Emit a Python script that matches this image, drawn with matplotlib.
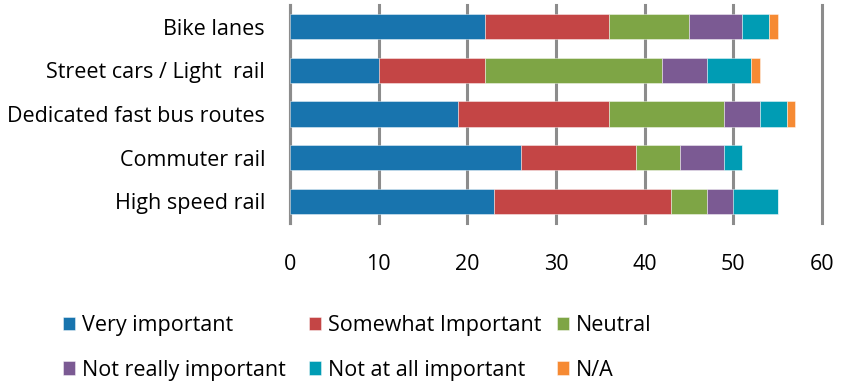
import matplotlib
matplotlib.use("Agg")
import matplotlib.pyplot as plt
import numpy as np

categories = ["Bike lanes", "Street cars / Light  rail", "Dedicated fast bus routes",
              "Commuter rail", "High speed rail"]
series_names = ["Very important", "Somewhat Important", "Neutral",
                "Not really important", "Not at all important", "N/A"]
very_important = [22, 10, 19, 26, 23]
somewhat_important = [14, 12, 17, 13, 20]
neutral = [9, 20, 13, 5, 4]
not_really = [6, 5, 4, 5, 3]
not_at_all = [3, 5, 3, 2, 5]
na = [1, 1, 1, 0, 0]
xticks = [0, 10, 20, 30, 40, 50, 60]

colors = ["#1874AE", "#C44545", "#7EA545", "#7B5A93", "#009CB4", "#F68A33"]

plt.rcParams['font.family'] = ['Open Sans', 'DejaVu Sans']
FS = 15.5

fig = plt.figure(figsize=(8.47, 3.83), dpi=100)
ax = fig.add_axes([290/847, 1-223/383, (822-290)/847, (223-5)/383])

data = [very_important, somewhat_important, neutral, not_really, not_at_all, na]
y = np.arange(len(categories))
left = np.zeros(len(categories))
containers = []
for vals, c, name in zip(data, colors, series_names):
    vals = np.array(vals, dtype=float)
    bc = ax.barh(y, vals, left=left, height=0.58, color=c, edgecolor=(1, 1, 1, 0.5),
                 linewidth=0.6, label=name, zorder=3)
    containers.append(bc)
    left += vals

ax.set_ylim(len(categories) - 0.5, -0.5)
ax.set_xlim(0, 60)
ax.set_xticks(xticks)
ax.set_yticks(y)
ax.set_yticklabels(categories, fontsize=FS)
ax.tick_params(axis='x', length=0, pad=22, labelsize=FS)
ax.tick_params(axis='y', length=0, pad=18)
ax.xaxis.grid(True, color="#8C8C8C", linewidth=2.2, zorder=0)
ax.set_axisbelow(True)
for gl in ax.get_xgridlines():
    gl.set_clip_on(False)
for s in ["top", "right", "bottom"]:
    ax.spines[s].set_visible(False)
ax.spines["left"].set_color("#8C8C8C")
ax.spines["left"].set_linewidth(2.2)
ax.spines["left"].set_zorder(1)

col_x = [63/847, 309/847, 557/847]
for ci in range(3):
    hs = [containers[ci], containers[ci + 3]]
    ls = [series_names[ci], series_names[ci + 3]]
    leg = fig.legend(hs, ls, loc="upper left", bbox_to_anchor=(col_x[ci], 1 - 315/383),
                     frameon=False, fontsize=FS, handlelength=0.58, handleheight=0.58,
                     handletextpad=0.3, labelspacing=1.1, borderpad=0, borderaxespad=0)

fig.savefig("out.png", dpi=100)
